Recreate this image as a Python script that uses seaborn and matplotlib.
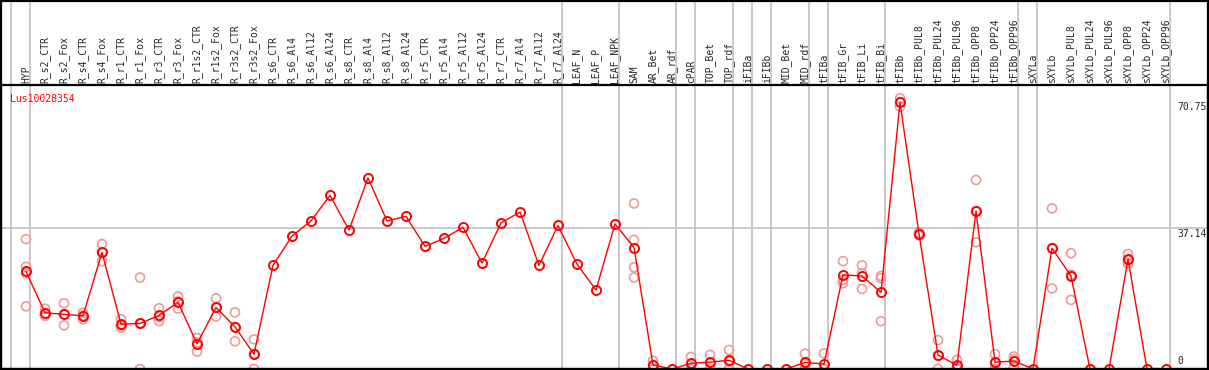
import seaborn as sns
import pandas as pd
import numpy as np
import matplotlib.pyplot as plt
from matplotlib.patches import Rectangle
import matplotlib.transforms as mtransforms

title = 'Lus10028354'

labels = ['HYP', 'R_s2_CTR', 'R_s2_Fox', 'R_s4_CTR', 'R_s4_Fox', 'R_r1_CTR', 'R_r1_Fox',
          'R_r3_CTR', 'R_r3_Fox', 'R_r1s2_CTR', 'R_r1s2_Fox', 'R_r3s2_CTR', 'R_r3s2_Fox',
          'R_s6_CTR', 'R_s6_Al4', 'R_s6_Al12', 'R_s6_Al24', 'R_s8_CTR', 'R_s8_Al4',
          'R_s8_Al12', 'R_s8_Al24', 'R_r5_CTR', 'R_r5_Al4', 'R_r5_Al12', 'R_r5_Al24',
          'R_r7_CTR', 'R_r7_Al4', 'R_r7_Al12', 'R_r7_Al24', 'LEAF_N', 'LEAF_P', 'LEAF_NPK',
          'SAM', 'AR_Bet', 'AR_rdf', 'cPAR', 'TOP_Bet', 'TOP_rdf', 'iFIBa', 'iFIBb',
          'MID_Bet', 'MID_rdf', 'tFIBa', 'tFIB_Gr', 'tFIB_Li', 'tFIB_Bi', 'tFIBb',
          'tFIBb_PUL8', 'tFIBb_PUL24', 'tFIBb_PUL96', 'tFIBb_OPP8', 'tFIBb_OPP24',
          'tFIBb_OPP96', 'sXYLa', 'sXYLb', 'sXYLb_PUL8', 'sXYLb_PUL24', 'sXYLb_PUL96',
          'sXYLb_OPP8', 'sXYLb_OPP24', 'sXYLb_OPP96']

means = [25.7, 14.8, 14.4, 14.0, 30.7, 11.8, 12.0, 14.1, 17.6, 6.6, 16.2, 11.1, 3.9,
         27.3, 35.0, 39.0, 45.7, 36.6, 50.3, 39.0, 40.2, 32.3, 34.4, 37.3, 27.9,
         38.5, 41.3, 27.3, 37.8, 27.6, 20.8, 38.2,
         32.0, 1.05, 0.0, 1.5, 1.8, 2.3, 0.0, 0.0, 0.0, 1.75, 1.3,
         24.8, 24.5, 20.2, 70.2, 35.6, 3.7, 0.96, 41.6, 1.8, 2.1,
         0.0, 31.8, 24.5, 0.0, 0.0, 28.9, 0.0, 0.0]

# replicate samples (light circles)
rep_cat = (['HYP'] * 4 + ['R_s2_CTR'] * 3 + ['R_s2_Fox'] * 3 + ['R_s4_CTR'] * 3 +
           ['R_s4_Fox'] * 3 + ['R_r1_CTR'] * 3 + ['R_r1_Fox'] * 3 + ['R_r3_CTR'] * 3 +
           ['R_r3_Fox'] * 3 + ['R_r1s2_CTR'] * 3 + ['R_r1s2_Fox'] * 3 + ['R_r3s2_CTR'] * 3 +
           ['R_r3s2_Fox'] * 3 + ['SAM'] * 4 + ['AR_Bet'] * 3 + ['cPAR'] * 3 +
           ['TOP_Bet'] * 3 + ['TOP_rdf'] * 3 + ['MID_rdf'] * 3 + ['tFIBa'] * 3 +
           ['tFIB_Gr'] * 3 + ['tFIB_Li'] * 3 + ['tFIB_Bi'] * 3 + ['tFIBb'] * 3 +
           ['tFIBb_PUL8'] * 3 + ['tFIBb_PUL24'] * 3 + ['tFIBb_PUL96'] * 3 +
           ['tFIBb_OPP8'] * 3 + ['tFIBb_OPP24'] * 3 + ['tFIBb_OPP96'] * 3 +
           ['sXYLb'] * 3 + ['sXYLb_PUL8'] * 3 + ['sXYLb_OPP8'] * 3)
rep_val = [34.2, 26.9, 25.2, 16.5,
           15.9, 14.0, 14.5,
           17.3, 11.5, 14.4,
           14.8, 13.1, 14.1,
           32.9, 28.4, 30.8,
           13.1, 10.9, 11.4,
           24.1, 0.0, 12.0,
           16.0, 12.6, 13.7,
           19.1, 15.9, 17.8,
           8.2, 4.6, 7.0,
           18.6, 13.8, 16.2,
           14.9, 7.3, 11.1,
           7.8, 0.0, 3.9,
           43.6, 34.0, 26.8, 24.1,
           2.2, 0.0, 1.0,
           3.2, 0.0, 1.3,
           3.7, 1.7, 0.0,
           5.0, 1.9, 0.0,
           4.0, 0.0, 1.3,
           4.1, 0.0, 0.0,
           28.4, 23.4, 22.6,
           27.3, 25.2, 21.1,
           24.5, 23.9, 12.6,
           71.3, 69.1, 70.3,
           36.0, 35.2, 35.6,
           7.6, 0.0, 3.5,
           2.4, 0.5, 0.0,
           49.8, 33.4, 41.6,
           3.9, 1.5, 0.0,
           3.3, 2.6, 0.5,
           42.3, 21.2, 31.8,
           30.5, 18.2, 24.8,
           30.3, 27.8, 28.6]

# last sample of each tissue group -> separator lines
group_ends = ['HYP', 'R_r7_Al24', 'LEAF_NPK', 'AR_rdf', 'cPAR', 'TOP_rdf', 'iFIBa',
              'iFIBb', 'MID_rdf', 'tFIBa', 'tFIB_Bi', 'tFIBb_OPP96', 'sXYLa', 'sXYLb_OPP96']
ytick_vals = [70.75, 37.14]

sns.set_style('white')
plt.rcParams['font.family'] = ['DejaVu Sans Mono', 'DejaVu Sans']

pos = {name: i for i, name in enumerate(labels)}
df_mean = pd.DataFrame({'x': np.arange(len(labels)), 'y': means})
df_rep = pd.DataFrame({'x': [pos[c] for c in rep_cat], 'y': rep_val})

W, H = 1209, 370
fig = plt.figure(figsize=(W / 100, H / 100), dpi=100)
ax = fig.add_axes([1 / W, 1 / H, 1207 / W, 284 / H])

step = 19.0
ax.set_xlim(-(26 - 1) / step, (1208 - 26) / step)
ax.set_ylim(0, 74.8)

# group separators, running through the label band as well
for name in group_ends:
    ax.axvline(pos[name] + 0.22, ymin=0, ymax=369 / 284, color='#c0c0c0', lw=1.2,
               clip_on=False, zorder=0)
ax.axvline(-1 + 0.22, ymin=0, ymax=369 / 284, color='#c0c0c0', lw=1.2,
           clip_on=False, zorder=0)
ax.axhline(ytick_vals[1], color='#c0c0c0', lw=1.2, zorder=0)

sns.scatterplot(data=df_rep, x='x', y='y', ax=ax, marker='o', s=42,
                facecolors='none', edgecolor='#ec9a9a', linewidth=1.2, zorder=2)
sns.lineplot(data=df_mean, x='x', y='y', ax=ax, color='red', lw=1.0, marker='o',
             markersize=6.5, markerfacecolor='none', markeredgecolor='red',
             markeredgewidth=1.4, zorder=3)

ax.xaxis.tick_top()
ax.set_xticks(range(len(labels)))
ax.set_xticklabels(labels, rotation=90, fontsize=7)
ax.tick_params(axis='x', length=0, pad=1.5)
ax.set_yticks([])
ax.set_xlabel('')
ax.set_ylabel('')
for s in ax.spines.values():
    s.set_color('black')
    s.set_linewidth(1.6)

trans = mtransforms.blended_transform_factory(ax.transAxes, ax.transData)
ax.text(0.975, ytick_vals[0] - 0.3, f'{ytick_vals[0]:.2f}', transform=trans,
        fontsize=7, va='top', ha='left')
ax.text(0.975, ytick_vals[1] - 0.3, f'{ytick_vals[1]:.2f}', transform=trans,
        fontsize=7, va='top', ha='left')
ax.text(0.975, 0.8, '0', transform=trans, fontsize=7, va='bottom', ha='left')
ax.text(0.0075, 0.968, title, transform=ax.transAxes, fontsize=7, color='red',
        va='top', ha='left')

fig.add_artist(Rectangle((1 / W, 1 / H), 1207 / W, 368.5 / H, transform=fig.transFigure,
                         fill=False, edgecolor='black', lw=1.6))

fig.savefig('out.png', dpi=100)
